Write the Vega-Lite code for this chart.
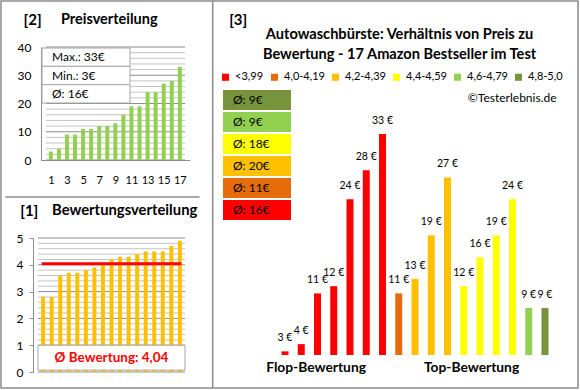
{
  "$schema": "https://vega.github.io/schema/vega-lite/v6.json",
  "width": 577,
  "height": 387,
  "padding": {"left": 1, "top": 1, "right": 2, "bottom": 2},
  "autosize": {"type": "none"},
  "background": "white",
  "config": {
    "view": {"stroke": "#8c8c8c", "strokeWidth": 1.5},
    "font": "Lato",
    "locale": {"number": {"decimal": ",", "thousands": ".", "grouping": [3], "currency": ["", " €"]}},
    "axis": {"labelFont": "Lato", "labelColor": "#000000", "domainColor": "#8c8c8c", "title": null}
  },
  "datasets": {
    "preise": [
      {"i": 1, "preis": 3}, {"i": 2, "preis": 4}, {"i": 3, "preis": 9}, {"i": 4, "preis": 9},
      {"i": 5, "preis": 11}, {"i": 6, "preis": 11}, {"i": 7, "preis": 12}, {"i": 8, "preis": 12},
      {"i": 9, "preis": 13}, {"i": 10, "preis": 16}, {"i": 11, "preis": 19}, {"i": 12, "preis": 19},
      {"i": 13, "preis": 24}, {"i": 14, "preis": 24}, {"i": 15, "preis": 27}, {"i": 16, "preis": 28},
      {"i": 17, "preis": 33}
    ],
    "gitterPreis": [
      {"wert": 0}, {"wert": 2}, {"wert": 4}, {"wert": 6}, {"wert": 8}, {"wert": 10}, {"wert": 12},
      {"wert": 14}, {"wert": 16}, {"wert": 18}, {"wert": 20}, {"wert": 22}, {"wert": 24}, {"wert": 26},
      {"wert": 28}, {"wert": 30}, {"wert": 32}, {"wert": 34}, {"wert": 36}, {"wert": 38}, {"wert": 40}
    ],
    "bewertungen": [
      {"i": 1, "bewertung": 2.8}, {"i": 2, "bewertung": 2.8}, {"i": 3, "bewertung": 3.6}, {"i": 4, "bewertung": 3.7},
      {"i": 5, "bewertung": 3.7}, {"i": 6, "bewertung": 3.8}, {"i": 7, "bewertung": 3.9}, {"i": 8, "bewertung": 4.0},
      {"i": 9, "bewertung": 4.2}, {"i": 10, "bewertung": 4.3}, {"i": 11, "bewertung": 4.3}, {"i": 12, "bewertung": 4.4},
      {"i": 13, "bewertung": 4.5}, {"i": 14, "bewertung": 4.5}, {"i": 15, "bewertung": 4.5}, {"i": 16, "bewertung": 4.7},
      {"i": 17, "bewertung": 4.9}
    ],
    "gitterBewertung": [
      {"wert": 0}, {"wert": 0.2}, {"wert": 0.4}, {"wert": 0.6}, {"wert": 0.8}, {"wert": 1}, {"wert": 1.2},
      {"wert": 1.4}, {"wert": 1.6}, {"wert": 1.8}, {"wert": 2}, {"wert": 2.2}, {"wert": 2.4}, {"wert": 2.6},
      {"wert": 2.8}, {"wert": 3}, {"wert": 3.2}, {"wert": 3.4}, {"wert": 3.6}, {"wert": 3.8}, {"wert": 4},
      {"wert": 4.2}, {"wert": 4.4}, {"wert": 4.6}, {"wert": 4.8}, {"wert": 5}
    ],
    "ranking": [
      {"rang": 1, "preis": 3, "kat": "<3,99"}, {"rang": 2, "preis": 4, "kat": "<3,99"},
      {"rang": 3, "preis": 11, "kat": "<3,99"}, {"rang": 4, "preis": 12, "kat": "<3,99"},
      {"rang": 5, "preis": 24, "kat": "<3,99"}, {"rang": 6, "preis": 28, "kat": "<3,99"},
      {"rang": 7, "preis": 33, "kat": "<3,99"}, {"rang": 8, "preis": 11, "kat": "4,0-4,19"},
      {"rang": 9, "preis": 13, "kat": "4,2-4,39"}, {"rang": 10, "preis": 19, "kat": "4,2-4,39"},
      {"rang": 11, "preis": 27, "kat": "4,2-4,39"}, {"rang": 12, "preis": 12, "kat": "4,4-4,59"},
      {"rang": 13, "preis": 16, "kat": "4,4-4,59"}, {"rang": 14, "preis": 19, "kat": "4,4-4,59"},
      {"rang": 15, "preis": 24, "kat": "4,4-4,59"}, {"rang": 16, "preis": 9, "kat": "4,6-4,79"},
      {"rang": 17, "preis": 9, "kat": "4,8-5,0"}
    ],
    "stats": [{"z": "Max.: 33€"}, {"z": "Min.: 3€"}, {"z": "Ø: 16€"}],
    "mittel": [
      {"kat": "4,8-5,0", "avg": "Ø: 9€"},
      {"kat": "4,6-4,79", "avg": "Ø: 9€"},
      {"kat": "4,4-4,59", "avg": "Ø: 18€"},
      {"kat": "4,2-4,39", "avg": "Ø: 20€"},
      {"kat": "4,0-4,19", "avg": "Ø: 11€"},
      {"kat": "<3,99", "avg": "Ø: 16€"}
    ]
  },
  "resolve": {
    "scale": {"x": "independent", "y": "independent", "color": "independent"},
    "axis": {"x": "independent", "y": "independent"},
    "legend": {"color": "independent"}
  },
  "layer": [
    {
      "layer": [
        {
          "data": {"name": "gitterPreis"},
          "mark": {"type": "rule", "strokeWidth": 1},
          "encoding": {
            "y": {"field": "wert", "type": "quantitative",
              "scale": {"domain": [0, 40], "range": [159, 46], "nice": false},
              "axis": {"orient": "left", "offset": -40, "values": [0, 10, 20, 30, 40], "grid": false,
                "ticks": false, "labelPadding": 10, "labelFontSize": 12, "labelOverlap": false, "domain": true, "title": null}},
            "x": {"datum": 0.4, "scale": {"domain": [0.4, 17.64], "range": [40, 189], "nice": false, "zero": false},
              "axis": {"orient": "bottom", "offset": -228, "values": [1, 3, 5, 7, 9, 11, 13, 15, 17], "grid": false, "ticks": false, "domain": true, "labelPadding": 14, "labelFontSize": 11, "labelFlush": false, "labelOverlap": false, "title": null}},
            "x2": {"datum": 17.64},
            "color": {"condition": {"test": "datum.wert % 10 === 0", "value": "#8c8c8c"}, "value": "#c4c4c4"}
          }
        },
        {
          "data": {"name": "preise"},
          "mark": {"type": "bar", "width": 4, "color": "#92D050", "orient": "vertical"},
          "encoding": {
            "x": {"field": "i", "type": "quantitative"},
            "y": {"field": "preis", "type": "quantitative"}
          }
        },
        {
          "data": {"values": [{"t": "[2]"}]},
          "mark": {"type": "text", "align": "left", "baseline": "middle", "fontSize": 15, "fontWeight": "bold"},
          "encoding": {"x": {"datum": -2.38}, "y": {"datum": 49.56}, "text": {"field": "t"}}
        },
        {
          "data": {"values": [{"t": "Preisverteilung"}]},
          "mark": {"type": "text", "align": "left", "baseline": "middle", "fontSize": 14.5, "fontWeight": "bold"},
          "encoding": {"x": {"datum": 2.25}, "y": {"datum": 49.56}, "text": {"field": "t"}}
        }
      ]
    },
    {
      "data": {"name": "stats"},
      "layer": [
        {
          "mark": {"type": "rect", "fill": "white", "stroke": "#a6a6a6", "strokeWidth": 1},
          "encoding": {
            "y": {"field": "z", "type": "nominal", "sort": null, "scale": {"range": [47, 102], "paddingInner": 0, "paddingOuter": 0}, "axis": null},
            "x": {"datum": 0, "scale": {"domain": [0, 1], "range": [41, 129]}, "axis": null},
            "x2": {"datum": 1}
          }
        },
        {
          "mark": {"type": "text", "align": "left", "baseline": "middle", "dx": 10, "fontSize": 12, "color": "#000000"},
          "encoding": {
            "y": {"field": "z", "type": "nominal", "sort": null},
            "x": {"datum": 0},
            "text": {"field": "z"}
          }
        }
      ]
    },
    {
      "layer": [
        {
          "data": {"name": "gitterBewertung"},
          "mark": {"type": "rule", "strokeWidth": 1},
          "encoding": {
            "y": {"field": "wert", "type": "quantitative",
              "scale": {"domain": [0, 5], "range": [371, 237], "nice": false},
              "axis": {"orient": "left", "offset": -32, "values": [0, 1, 2, 3, 4, 5],
                "labelExpr": "format(datum.value, 'd')", "grid": false,
                "ticks": true, "tickSize": 4, "tickColor": "#8c8c8c",
                "labelPadding": 6, "labelFontSize": 12, "labelOverlap": false, "domain": true, "title": null}},
            "x": {"datum": 0.4, "scale": {"domain": [0.4, 17.6], "range": [32, 189], "nice": false, "zero": false}, "axis": null},
            "x2": {"datum": 17.6},
            "color": {"condition": {"test": "datum.wert % 1 === 0", "value": "#8c8c8c"}, "value": "#c4c4c4"}
          }
        },
        {
          "data": {"name": "bewertungen"},
          "mark": {"type": "bar", "width": 4, "color": "#FFC000", "orient": "vertical"},
          "encoding": {
            "x": {"field": "i", "type": "quantitative"},
            "y": {"field": "bewertung", "type": "quantitative"}
          }
        },
        {
          "data": {"name": "bewertungen"},
          "mark": {"type": "rule", "color": "#FF0000", "strokeWidth": 3, "strokeCap": "square"},
          "encoding": {
            "x": {"aggregate": "min", "field": "i", "type": "quantitative"},
            "x2": {"aggregate": "max", "field": "i"},
            "y": {"aggregate": "mean", "field": "bewertung", "type": "quantitative"}
          }
        },
        {
          "data": {"values": [{"t": "Ø Bewertung: 4,04"}]},
          "mark": {"type": "rect", "fill": "white", "stroke": "#a6a6a6", "strokeWidth": 1},
          "encoding": {"x": {"datum": 0.4}, "x2": {"datum": 17.6}, "y": {"datum": 0.07}, "y2": {"datum": 1.0}}
        },
        {
          "data": {"values": [{"t": "Ø Bewertung: 4,04"}]},
          "mark": {"type": "text", "align": "center", "baseline": "middle", "fontSize": 13.5, "fontWeight": "bold", "color": "#FF0000"},
          "encoding": {"x": {"datum": 9}, "y": {"datum": 0.53}, "text": {"field": "t"}}
        },
        {
          "data": {"values": [{"t": "[1]"}]},
          "mark": {"type": "text", "align": "left", "baseline": "middle", "fontSize": 15, "fontWeight": "bold"},
          "encoding": {"x": {"datum": -1.685}, "y": {"datum": 6.007}, "text": {"field": "t"}}
        },
        {
          "data": {"values": [{"t": "Bewertungsverteilung"}]},
          "mark": {"type": "text", "align": "left", "baseline": "middle", "fontSize": 14.8, "fontWeight": "bold"},
          "encoding": {"x": {"datum": 2.04}, "y": {"datum": 6.007}, "text": {"field": "t"}}
        },
        {
          "data": {"values": [{"t": "Trenner"}]},
          "mark": {"type": "rule", "color": "#8c8c8c", "strokeWidth": 1.5},
          "encoding": {"x": {"datum": -3.4}, "x2": {"datum": 19.3}, "y": {"datum": 6.53}}
        }
      ]
    },
    {
      "layer": [
        {
          "data": {"name": "ranking"},
          "mark": {"type": "bar", "width": 7, "orient": "vertical"},
          "encoding": {
            "x": {"field": "rang", "type": "quantitative",
              "scale": {"domain": [1, 17], "range": [279, 549], "nice": false, "zero": false}, "axis": null},
            "y": {"field": "preis", "type": "quantitative",
              "scale": {"domain": [2.5, 33], "range": [354, 133], "nice": false, "zero": false}, "axis": null},
            "y2": {"datum": 2.5},
            "color": {"field": "kat", "type": "nominal",
              "scale": {"domain": ["<3,99", "4,0-4,19", "4,2-4,39", "4,4-4,59", "4,6-4,79", "4,8-5,0"],
                "range": ["#FF0000", "#E46C0A", "#FFC000", "#FFFF00", "#92D050", "#77933C"]},
              "legend": {"orient": "none", "legendX": 219, "legendY": 70.5, "direction": "horizontal", "title": null,
                "symbolType": "square", "symbolSize": 50, "symbolStrokeWidth": 0, "labelFontSize": 11,
                "labelOffset": 4, "columnPadding": 5, "padding": 0, "labelColor": "#000000", "labelFont": "Lato"}}
          }
        },
        {
          "data": {"name": "ranking"},
          "mark": {"type": "text", "align": "center", "baseline": "middle", "dy": -13, "fontSize": 10.5, "color": "#000000"},
          "encoding": {
            "x": {"field": "rang", "type": "quantitative"},
            "y": {"field": "preis", "type": "quantitative"},
            "text": {"field": "preis", "type": "quantitative", "format": "$.0f"}
          }
        },
        {
          "data": {"values": [{"t": "[3]"}]},
          "mark": {"type": "text", "align": "left", "baseline": "middle", "fontSize": 15, "fontWeight": "bold"},
          "encoding": {"x": {"datum": -2.437}, "y": {"datum": 48.73}, "text": {"field": "t"}}
        },
        {
          "data": {"values": [{"t": "Autowaschbürste: Verhältnis von Preis zu\nBewertung - 17 Amazon Bestseller im Test"}]},
          "mark": {"type": "text", "align": "center", "baseline": "middle", "fontSize": 14.6, "fontWeight": "bold", "lineBreak": "\n", "lineHeight": 20},
          "encoding": {"x": {"datum": 8.05}, "y": {"datum": 46.66}, "text": {"field": "t"}}
        },
        {
          "data": {"values": [{"t": "©Testerlebnis.de"}]},
          "mark": {"type": "text", "align": "right", "baseline": "middle", "fontSize": 12},
          "encoding": {"x": {"datum": 17.71}, "y": {"datum": 37.97}, "text": {"field": "t"}}
        },
        {
          "data": {"values": [{"t": "Flop-Bewertung"}]},
          "mark": {"type": "text", "align": "center", "baseline": "middle", "fontSize": 13.8, "fontWeight": "bold"},
          "encoding": {"x": {"datum": 2.914}, "y": {"datum": 0.66}, "text": {"field": "t"}}
        },
        {
          "data": {"values": [{"t": "Top-Bewertung"}]},
          "mark": {"type": "text", "align": "center", "baseline": "middle", "fontSize": 13.8, "fontWeight": "bold"},
          "encoding": {"x": {"datum": 12.48}, "y": {"datum": 0.66}, "text": {"field": "t"}}
        },
        {
          "data": {"values": [{"t": "Trenner"}]},
          "mark": {"type": "rule", "color": "#8c8c8c", "strokeWidth": 1.5},
          "encoding": {"x": {"datum": -3.45}}
        }
      ]
    },
    {
      "data": {"name": "mittel"},
      "layer": [
        {
          "mark": {"type": "rect"},
          "encoding": {
            "y": {"field": "kat", "type": "nominal", "sort": null, "scale": {"range": [88, 220], "paddingInner": 0.09, "paddingOuter": 0.05}, "axis": null},
            "x": {"datum": 0, "scale": {"domain": [0, 1], "range": [222, 290]}, "axis": null},
            "x2": {"datum": 1},
            "color": {"field": "kat", "type": "nominal",
              "scale": {"domain": ["<3,99", "4,0-4,19", "4,2-4,39", "4,4-4,59", "4,6-4,79", "4,8-5,0"],
                "range": ["#FF0000", "#E46C0A", "#FFC000", "#FFFF00", "#92D050", "#77933C"]},
              "legend": null}
          }
        },
        {
          "mark": {"type": "text", "align": "left", "baseline": "middle", "dx": 10, "fontSize": 12, "color": "#000000"},
          "encoding": {
            "y": {"field": "kat", "type": "nominal", "sort": null},
            "x": {"datum": 0},
            "text": {"field": "avg"}
          }
        }
      ]
    }
  ]
}
